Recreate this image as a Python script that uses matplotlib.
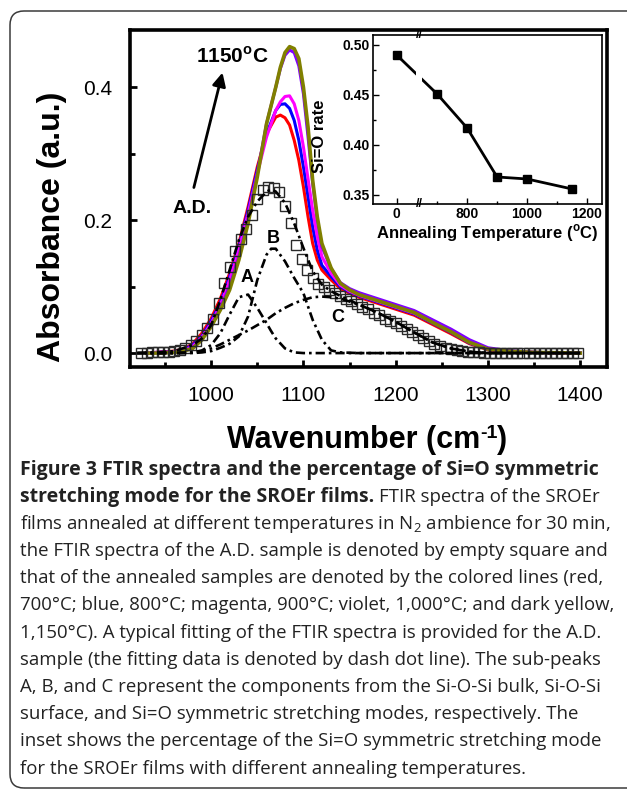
import matplotlib
matplotlib.use('Agg')
import matplotlib.pyplot as plt
from matplotlib.patches import FancyBboxPatch
from matplotlib.transforms import IdentityTransform

plt.rcParams['font.family'] = ['Liberation Sans', 'DejaVu Sans']
plt.rcParams['mathtext.fontset'] = 'custom'
plt.rcParams['mathtext.rm'] = 'Open Sans'
plt.rcParams['mathtext.bf'] = 'Liberation Sans:bold'

# ---- data ----
# annealed samples (colored lines)
wn = [930, 940, 960, 970, 980, 990, 1000, 1010, 1020, 1030, 1040, 1050, 1060, 1070,
      1075, 1080, 1085, 1090, 1095, 1100, 1105, 1110, 1115, 1120, 1130, 1140, 1150, 1160,
      1180, 1200, 1220, 1240, 1260, 1280, 1300, 1320, 1350, 1400]
abs_700 = [0, 0.001, 0.003, 0.006, 0.014, 0.03, 0.052, 0.082, 0.12, 0.165, 0.22, 0.28, 0.33, 0.355,
           0.358, 0.354, 0.343, 0.32, 0.29, 0.25, 0.205, 0.165, 0.14, 0.125, 0.11, 0.097, 0.09, 0.084,
           0.075, 0.066, 0.057, 0.043, 0.029, 0.014, 0.005, 0.002, 0.001, 0.0]
abs_800 = [0, 0.001, 0.002, 0.005, 0.012, 0.026, 0.048, 0.076, 0.115, 0.16, 0.215, 0.275, 0.33, 0.365,
           0.374, 0.375, 0.368, 0.35, 0.32, 0.28, 0.235, 0.19, 0.155, 0.132, 0.115, 0.1, 0.092, 0.086,
           0.077, 0.068, 0.059, 0.045, 0.031, 0.015, 0.006, 0.003, 0.001, 0.0]
abs_900 = [0, 0.001, 0.002, 0.004, 0.01, 0.024, 0.045, 0.072, 0.11, 0.155, 0.21, 0.27, 0.325, 0.365,
           0.378, 0.386, 0.387, 0.375, 0.35, 0.31, 0.262, 0.215, 0.175, 0.145, 0.12, 0.102, 0.093, 0.087,
           0.078, 0.069, 0.06, 0.046, 0.032, 0.016, 0.006, 0.003, 0.001, 0.0]
abs_1000 = [0, 0, 0.001, 0.003, 0.008, 0.021, 0.042, 0.068, 0.10, 0.145, 0.20, 0.27, 0.345, 0.40,
            0.428, 0.448, 0.456, 0.452, 0.432, 0.39, 0.325, 0.255, 0.2, 0.16, 0.127, 0.106, 0.097, 0.091,
            0.082, 0.073, 0.064, 0.05, 0.036, 0.02, 0.008, 0.004, 0.001, 0.0]
abs_1150 = [0, 0, 0.001, 0.003, 0.007, 0.02, 0.04, 0.065, 0.095, 0.14, 0.195, 0.265, 0.345, 0.40,
            0.43, 0.452, 0.461, 0.458, 0.443, 0.40, 0.34, 0.26, 0.205, 0.165, 0.128, 0.105, 0.095, 0.088,
            0.079, 0.070, 0.061, 0.046, 0.032, 0.016, 0.006, 0.003, 0.001, 0.0]

# as-deposited sample (open squares)
wn_ad = [924, 930, 936, 942, 948, 954, 960, 966, 972, 978, 984, 990, 996, 1002, 1008, 1014,
         1020, 1026, 1032, 1038, 1044, 1050, 1056, 1062, 1068, 1074, 1080, 1086, 1092, 1098,
         1104, 1110, 1116, 1122, 1128, 1134, 1140, 1146, 1152, 1158, 1164, 1170, 1176, 1182,
         1188, 1194, 1200, 1206, 1212, 1218, 1224, 1230, 1236, 1242, 1248, 1254, 1260, 1266,
         1272, 1278, 1284, 1290, 1296, 1302, 1308, 1314, 1320, 1326, 1332, 1338, 1344, 1350,
         1356, 1362, 1368, 1374, 1380, 1386, 1392, 1398]
abs_ad = [0.0, 0.0, 0.001, 0.001, 0.002, 0.002, 0.003, 0.005, 0.008, 0.012, 0.018, 0.027, 0.037,
          0.052, 0.076, 0.105, 0.13, 0.153, 0.172, 0.187, 0.208, 0.232, 0.245, 0.25, 0.248, 0.242,
          0.222, 0.195, 0.163, 0.142, 0.125, 0.113, 0.104, 0.099, 0.095, 0.09, 0.086, 0.081, 0.078,
          0.074, 0.07, 0.066, 0.061, 0.057, 0.052, 0.049, 0.045, 0.041, 0.036, 0.031, 0.027, 0.022,
          0.018, 0.014, 0.011, 0.008, 0.006, 0.004, 0.003, 0.002, 0.001, 0.001, 0.0, 0.0, 0.0, 0.0,
          0.0, 0.0, 0.0, 0.0, 0.0, 0.0, 0.0, 0.0, 0.0, 0.0, 0.0, 0.0, 0.0, 0.0]

# fitting of the A.D. spectrum (dash dot)
wn_fit = [920, 940, 960, 980, 990, 1000, 1010, 1020, 1030, 1040, 1050, 1060, 1065, 1070, 1080,
          1090, 1100, 1110, 1120, 1130, 1140, 1160, 1180, 1200, 1220, 1240, 1260, 1280, 1300,
          1320, 1350, 1400]
fit_total = [0.0, 0.001, 0.003, 0.012, 0.022, 0.042, 0.08, 0.125, 0.17, 0.205, 0.228, 0.243, 0.246,
             0.243, 0.226, 0.195, 0.158, 0.123, 0.103, 0.093, 0.086, 0.073, 0.061, 0.047, 0.031,
             0.016, 0.007, 0.002, 0, 0, 0, 0]
peak_a = [0, 0, 0, 0.001, 0.004, 0.012, 0.03, 0.058, 0.084, 0.088, 0.068, 0.045, 0.033, 0.022,
          0.007, 0.001, 0, 0, 0, 0, 0, 0, 0, 0, 0, 0, 0, 0, 0, 0, 0, 0]
peak_b = [0, 0, 0, 0, 0.001, 0.003, 0.008, 0.014, 0.025, 0.055, 0.11, 0.148, 0.157, 0.157, 0.138,
          0.113, 0.09, 0.05, 0.02, 0.004, 0.001, 0, 0, 0, 0, 0, 0, 0, 0, 0, 0, 0]
peak_c = [0, 0, 0, 0.001, 0.003, 0.007, 0.013, 0.02, 0.027, 0.034, 0.042, 0.05, 0.055, 0.06, 0.068,
          0.075, 0.08, 0.084, 0.085, 0.084, 0.082, 0.073, 0.061, 0.047, 0.031, 0.016, 0.007, 0.002,
          0, 0, 0, 0]

# inset: Si=O rate vs annealing temperature (0 = A.D.)
temps = [0, 700, 800, 900, 1000, 1150]
rate = [0.49, 0.451, 0.417, 0.368, 0.366, 0.356]

AD_POS = 565     # where the A.D. point sits on the broken inset axis
BREAK_POS = 640

def inset_x(t):
    return AD_POS if t == 0 else t

fig = plt.figure(figsize=(6.27, 7.9), dpi=100)
renderer = fig.canvas.get_renderer()

def text_width(s, size, weight='normal', family='Open Sans'):
    t = fig.text(0, 0, s, family=family, weight=weight, fontsize=size)
    w = t.get_window_extent(renderer).width
    t.remove()
    return w

# rounded frame around the figure
frame = FancyBboxPatch((10, 2), 700, 777, boxstyle='round,pad=0,rounding_size=14',
                       transform=IdentityTransform(), fill=False, ec='#3a3a3a', lw=1.1)
fig.add_artist(frame)

# ---- main plot ----
ax = fig.add_axes([0.2073, 0.5354, 0.7608, 0.4266])
dd = (0, (3.5, 1.5, 1, 1.5))
ax.plot(wn, abs_700, color='red', lw=2.2)
ax.plot(wn, abs_800, color='blue', lw=2.2)
ax.plot(wn, abs_900, color='magenta', lw=2.2)
ax.plot(wn, abs_1000, color='#8000ff', lw=2.2)
ax.plot(wn, abs_1150, color='#808000', lw=2.6)
ax.plot(wn_ad, abs_ad, ls='none', marker='s', ms=6.5, mfc='none', mec='#2a2a2a', mew=1.0)
for yv in (fit_total, peak_a, peak_b, peak_c):
    ax.plot(wn_fit, yv, color='k', lw=1.9, ls=dd)

ax.set_xlim(912, 1429)
ax.set_ylim(-0.021, 0.486)
ax.set_xticks([1000, 1100, 1200, 1300, 1400])
ax.set_xticks([950, 1050, 1150, 1250, 1350], minor=True)
ax.set_yticks([0.0, 0.2, 0.4])
ax.set_yticklabels(['0.0', '0.2', '0.4'])
ax.set_yticks([0.1, 0.3], minor=True)
ax.tick_params(which='both', direction='in', width=2, labelsize=15)
ax.tick_params(which='major', length=5)
ax.tick_params(which='minor', length=3.5)
ax.tick_params(axis='x', pad=14)
ax.tick_params(axis='y', pad=13)
for s in ax.spines.values():
    s.set_linewidth(2.6)

ax.annotate('', xy=(1013, 0.426), xytext=(980.5, 0.245),
            arrowprops=dict(arrowstyle='-|>', lw=2, color='k', mutation_scale=20))
ax.text(1022.8, 0.4466, r'1150$^{\mathbf{o}}$C', fontsize=15, weight='bold', ha='center', va='center')
ax.text(979, 0.217, 'A.D.', fontsize=14, weight='bold', ha='center', va='center')
ax.text(1039, 0.114, 'A', fontsize=13, weight='bold', ha='center', va='center')
ax.text(1067, 0.173, 'B', fontsize=13, weight='bold', ha='center', va='center')
ax.text(1137, 0.054, 'C', fontsize=13, weight='bold', ha='center', va='center')

fig.text(52 / 627, 1 - 227 / 790, 'Absorbance (a.u.)', rotation=90, fontsize=23,
         weight='bold', ha='center', va='center')

# x label built from pieces so the superscript keeps a short hyphen
xl_main, xl_sup, xl_end = 'Wavenumber (cm', '-1', ')'
fs_main, fs_sup = 22, 14
w1 = text_width(xl_main, fs_main, 'bold', 'Liberation Sans')
w2 = text_width(xl_sup, fs_sup, 'bold', 'Liberation Sans')
w3 = text_width(xl_end, fs_main, 'bold', 'Liberation Sans')
xl_left = 367 - (w1 + w2 + w3) / 2
xl_base = 1 - 448 / 790
fig.text(xl_left / 627, xl_base, xl_main, fontsize=fs_main, weight='bold', va='baseline')
fig.text((xl_left + w1) / 627, xl_base + 10 / 790, xl_sup, fontsize=fs_sup, weight='bold', va='baseline')
fig.text((xl_left + w1 + w2) / 627, xl_base, xl_end, fontsize=fs_main, weight='bold', va='baseline')

# ---- inset ----
axi = fig.add_axes([0.5949, 0.7418, 0.3652, 0.2139])
axi.plot([inset_x(t) for t in temps], rate, color='k', lw=2, marker='s', ms=5.5, zorder=2)
axi.axvspan(BREAK_POS - 9, BREAK_POS + 9, color='white', zorder=2.2, lw=0)
axi.set_xlim(486, 1250)
axi.set_ylim(0.341, 0.51)
axi.set_xticks([AD_POS, 800, 1000, 1200])
axi.set_xticklabels(['0', '800', '1000', '1200'])
axi.set_xticks([700, 900, 1100], minor=True)
axi.set_yticks([0.35, 0.40, 0.45, 0.50])
axi.set_yticklabels(['0.35', '0.40', '0.45', '0.50'])
axi.set_yticks([0.375, 0.425, 0.475], minor=True)
axi.tick_params(which='both', direction='in', width=1, labelsize=10, pad=2)
axi.tick_params(which='major', length=4)
axi.tick_params(which='minor', length=2.5)
for lab in axi.get_xticklabels() + axi.get_yticklabels():
    lab.set_fontweight('bold')
for s in axi.spines.values():
    s.set_linewidth(1.2)
for yb in (0, 1):
    axi.text(BREAK_POS, yb, '//', transform=axi.get_xaxis_transform(), fontsize=9,
             weight='bold', ha='center', va='center', clip_on=False)
axi.set_xlabel(r'Annealing Temperature ($^{\mathbf{o}}$C)', fontsize=12, weight='bold', labelpad=1)
axi.set_ylabel('Si=O rate', fontsize=12, weight='bold')
axi.yaxis.set_label_coords(-0.2, 0.4)

# ---- caption ----
cap_lines = [
    ('Figure 3 FTIR spectra and the percentage of Si=O symmetric', ''),
    ('stretching mode for the SROEr films.', 'FTIR spectra of the SROEr'),
    ('', 'films annealed at different temperatures in N$_2$ ambience for 30 min,'),
    ('', 'the FTIR spectra of the A.D. sample is denoted by empty square and'),
    ('', 'that of the annealed samples are denoted by the colored lines (red,'),
    ('', '700°C; blue, 800°C; magenta, 900°C; violet, 1,000°C; and dark yellow,'),
    ('', '1,150°C). A typical fitting of the FTIR spectra is provided for the A.D.'),
    ('', 'sample (the fitting data is denoted by dash dot line). The sub-peaks'),
    ('', 'A, B, and C represent the components from the Si-O-Si bulk, Si-O-Si'),
    ('', 'surface, and Si=O symmetric stretching modes, respectively. The'),
    ('', 'inset shows the percentage of the Si=O symmetric stretching mode'),
    ('', 'for the SROEr films with different annealing temperatures.'),
]

reg_size = 10 * 587 / text_width(cap_lines[3][1], 10)
bold_size = 10 * 580 / text_width(cap_lines[0][0], 10, 'bold')
space_px = text_width('a a', reg_size) - text_width('aa', reg_size)

x0 = 20
for i, (bpart, rpart) in enumerate(cap_lines):
    yb = 1 - (474.5 + 27.2 * i) / 790
    x = x0
    if bpart:
        fig.text(x / 627, yb, bpart, family='Open Sans', weight='bold', fontsize=bold_size,
                 color='#222222', va='baseline')
        x += text_width(bpart, bold_size, 'bold') + space_px
    if rpart:
        fig.text(x / 627, yb, rpart, family='Open Sans', fontsize=reg_size,
                 color='#222222', va='baseline')

fig.savefig('out.png', dpi=100)
